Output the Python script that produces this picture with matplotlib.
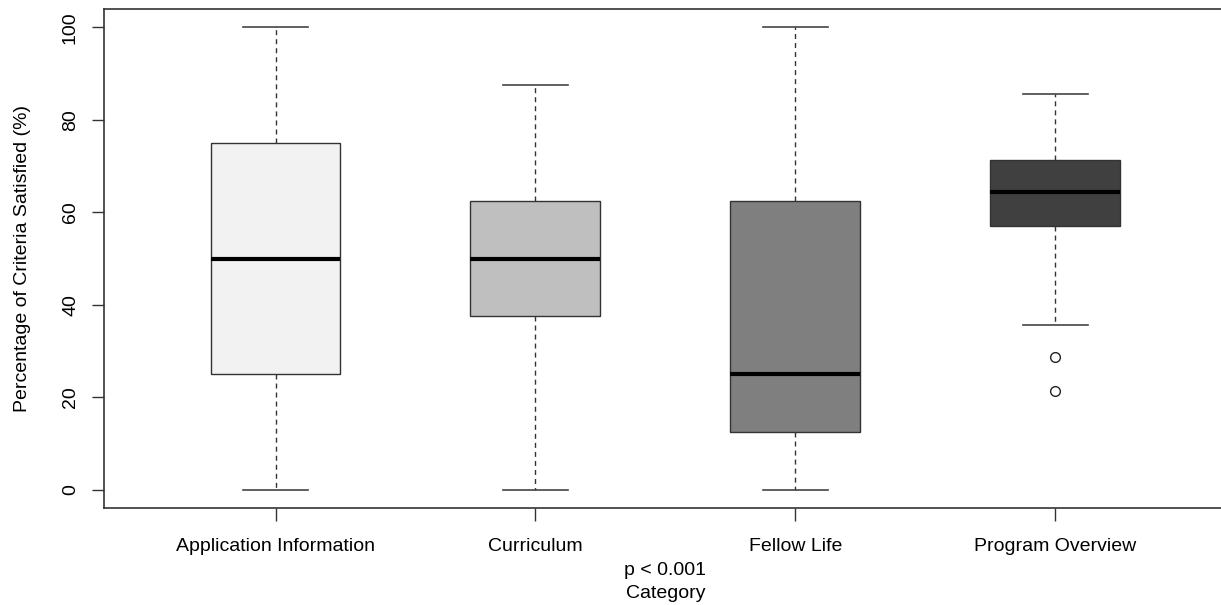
import matplotlib
matplotlib.use("Agg")
import matplotlib.pyplot as plt

plt.rcParams["font.family"] = ["Liberation Sans", "DejaVu Sans"]

# box statistics (percent)
categories = ["Application Information", "Curriculum", "Fellow Life", "Program Overview"]
whisker_low = [0, 0, 0, 35.7]
q1 = [25, 37.5, 12.5, 57.1]
median = [50, 50, 25, 64.3]
q3 = [75, 62.5, 62.5, 71.4]
whisker_high = [100, 87.5, 100, 85.7]
outliers = [[], [], [], [28.6, 21.4]]
box_colors = ["#f2f2f2", "#bfbfbf", "#7f7f7f", "#404040"]

stats = []
for i, name in enumerate(categories):
    stats.append({
        "label": name,
        "whislo": whisker_low[i],
        "q1": q1[i],
        "med": median[i],
        "q3": q3[i],
        "whishi": whisker_high[i],
        "fliers": outliers[i],
    })

fig = plt.figure(figsize=(12.21, 6.05), dpi=100)
ax = fig.add_axes([104 / 1221, 97 / 605, 1122.6 / 1221, 499 / 605])

bp = ax.bxp(
    stats,
    positions=[1, 2, 3, 4],
    widths=0.5,
    patch_artist=True,
    showfliers=True,
    boxprops=dict(edgecolor="#333333", linewidth=1.0),
    medianprops=dict(color="black", linewidth=3.0, solid_capstyle="butt"),
    whiskerprops=dict(color="#333333", linewidth=1.0, linestyle=(0, (3.6, 2.9))),
    capprops=dict(color="#444444", linewidth=1.2),
    capwidths=0.25,
    flierprops=dict(marker="o", markersize=7, markerfacecolor="white",
                    markeredgecolor="#222222", markeredgewidth=1.0),
)
for patch, c in zip(bp["boxes"], box_colors):
    patch.set_facecolor(c)

ax.set_xlim(0.34, 4.66)
ax.set_ylim(-4, 104)
ax.set_yticks([0, 20, 40, 60, 80, 100])
ax.set_yticklabels(["0", "20", "40", "60", "80", "100"], rotation=90, va="center")
ax.set_xticks([1, 2, 3, 4])
ax.set_xticklabels(categories)

ax.tick_params(axis="both", length=9, width=1.0, color="#333333", labelsize=14)
ax.tick_params(axis="x", pad=12.5)
ax.tick_params(axis="y", pad=9)
for s in ax.spines.values():
    s.set_color("#333333")
    s.set_linewidth(1.2)

ax.set_ylabel("Percentage of Criteria Satisfied (%)", fontsize=14, labelpad=22)
ax.set_xlabel("p < 0.001\nCategory", fontsize=14, labelpad=5, linespacing=1.5)

fig.savefig("out.png", dpi=100)
